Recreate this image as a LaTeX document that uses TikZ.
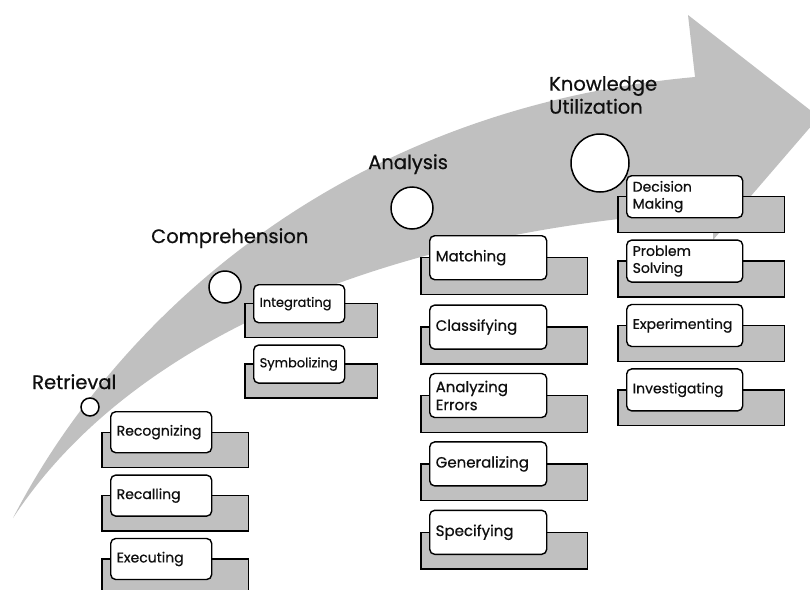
\documentclass[tikz,border=0pt]{standalone}
\usepackage{fontspec}
\setmainfont{Poppins}[FakeBold=0.6]
\usepackage{tikz}
\usetikzlibrary{positioning}
\definecolor{arrowgray}{RGB}{192,192,192}
\definecolor{boxgray}{RGB}{192,192,192}
\definecolor{inkdark}{RGB}{15,15,15}
\pgfdeclarelayer{arrowlayer}
\pgfdeclarelayer{backlayer}
\pgfsetlayers{arrowlayer,backlayer,main}
\tikzset{
  stagetitle/.style={anchor=north west, inner sep=0pt, align=left,
    text=inkdark, font=\fontsize{19.5}{23}\selectfont},
  stagedot/.style={circle, draw=black, fill=white, inner sep=0pt,
    line width=1.5pt},
  itembox/.style={rectangle, draw=black, fill=white, rounded corners=5pt,
    align=left, inner xsep=6pt, inner ysep=0pt, line width=1.4pt,
    text=inkdark, font=\fontsize{14}{17}\selectfont},
  retrbox/.style={itembox, text width=89pt, minimum height=41pt},
  compbox/.style={itembox, text width=79pt, minimum height=38pt,
    font=\fontsize{13}{16}\selectfont},
  analbox/.style={itembox, text width=105pt, minimum height=44pt,
    font=\fontsize{15}{18}\selectfont},
  knowbox/.style={itembox, text width=104pt, minimum height=42pt},
  backbox/.style={draw=black, fill=boxgray, line width=1.4pt}
}

\begin{document}
\begin{tikzpicture}[x=1pt, y=-1pt]
  \useasboundingbox (0,0) rectangle (810,589);
  \clip (0,0) rectangle (810,589);

  \begin{pgfonlayer}{arrowlayer}
    \fill[arrowgray] (13,518) .. controls (110,330) and (330,110) .. (695,77)
      -- (688,15) -- (819,117) -- (713,240) -- (713,211)
      .. controls (450,225) and (150,310) .. (13,518) -- cycle;
  \end{pgfonlayer}

  \node[stagetitle] (retrT) at (32,374) {Retrieval};
  \node[retrbox, anchor=north west] (recog) at (110,411) {Recognizing};
  \node[retrbox, below=21pt of recog] (recall) {Recalling};
  \node[retrbox, below=21pt of recall] (exec) {Executing};

  \node[stagetitle] (compT) at (151,228) {Comprehension};
  \node[compbox, anchor=north west] (integ) at (253,284) {Integrating};
  \node[compbox, below=21pt of integ] (symb) {Symbolizing};

  \node[stagetitle] (analT) at (368,154) {Analysis};
  \node[analbox, anchor=north west] (match) at (429,235) {Matching};
  \node[analbox, below=24pt of match] (classif) {Classifying};
  \node[analbox, below=23pt of classif] (errors) {Analyzing\\Errors};
  \node[analbox, below=23pt of errors] (general) {Generalizing};
  \node[analbox, below=23pt of general] (specif) {Specifying};

  \node[stagetitle] (knowT) at (549,76) {Knowledge\\Utilization};
  \node[knowbox, anchor=north west] (decis) at (626,175) {Decision\\Making};
  \node[knowbox, below=21pt of decis] (probl) {Problem\\Solving};
  \node[knowbox, below=21pt of probl] (exper) {Experimenting};
  \node[knowbox, below=21pt of exper] (invest) {Investigating};

  \begin{pgfonlayer}{backlayer}
    \foreach \b/\r in {recog/36,recall/36,exec/36,integ/32,symb/32,match/40,classif/40,errors/40,general/40,specif/40,decis/41,probl/41,exper/41,invest/41}
      \draw[backbox] ([xshift=-8pt]\b.west) rectangle ([xshift=\r pt,yshift=-14pt]\b.south east);
  \end{pgfonlayer}

  \node[stagedot, minimum size=18pt] (retrC) at (90,407) {};
  \node[stagedot, minimum size=32pt] (compC) at (225,287) {};
  \node[stagedot, minimum size=42pt] (analC) at (412,208) {};
  \node[stagedot, minimum size=58pt] (knowC) at (600,163) {};
\end{tikzpicture}
\end{document}
